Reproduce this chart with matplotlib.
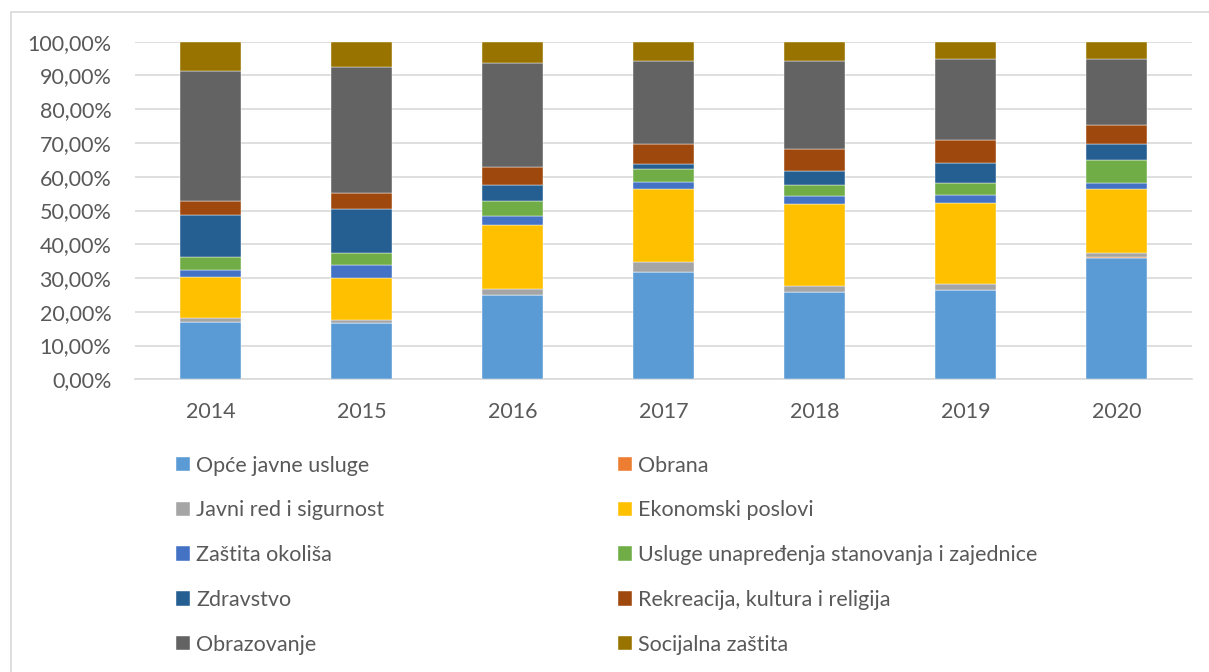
import matplotlib.pyplot as plt
import numpy as np
from matplotlib.patches import Rectangle
from matplotlib.ticker import FuncFormatter

# Udjeli rashoda po funkcijama (%), 2014-2020
years = ['2014', '2015', '2016', '2017', '2018', '2019', '2020']

opce_javne_usluge = [17.1, 16.6, 25.0, 31.9, 26.0, 26.5, 35.8]
obrana = [0.0, 0.0, 0.0, 0.0, 0.0, 0.0, 0.3]
javni_red = [1.1, 1.0, 1.7, 2.7, 1.7, 1.7, 1.4]
ekonomski_poslovi = [12.0, 12.3, 19.0, 21.8, 24.3, 24.1, 19.0]
zastita_okolisa = [2.1, 3.9, 2.6, 2.1, 2.2, 2.2, 1.6]
usluge_stanovanja = [3.8, 3.6, 4.5, 3.8, 3.5, 3.7, 6.9]
zdravstvo = [12.6, 13.1, 4.9, 1.4, 3.9, 5.8, 4.8]
rekreacija = [4.2, 4.6, 5.3, 6.1, 6.6, 7.0, 5.4]
obrazovanje = [38.3, 37.3, 30.6, 24.4, 26.0, 23.8, 19.8]
socijalna_zastita = [8.8, 7.6, 6.4, 5.8, 5.8, 5.2, 5.0]

series = [
    ('Opće javne usluge', opce_javne_usluge, '#5B9BD5'),
    ('Obrana', obrana, '#ED7D31'),
    ('Javni red i sigurnost', javni_red, '#A5A5A5'),
    ('Ekonomski poslovi', ekonomski_poslovi, '#FFC000'),
    ('Zaštita okoliša', zastita_okolisa, '#4472C4'),
    ('Usluge unapređenja stanovanja i zajednice', usluge_stanovanja, '#70AD47'),
    ('Zdravstvo', zdravstvo, '#255E91'),
    ('Rekreacija, kultura i religija', rekreacija, '#9E480E'),
    ('Obrazovanje', obrazovanje, '#636363'),
    ('Socijalna zaštita', socijalna_zastita, '#997300'),
]

plt.rcParams['font.family'] = ['Lato', 'DejaVu Sans']
text_color = '#595959'
fs = 15.5

fig = plt.figure(figsize=(12.09, 6.72), dpi=100)
ax = fig.add_axes([135 / 1209, 1 - 379.3 / 672, 1057 / 1209, 337.6 / 672])

x = np.arange(len(years))
bottom = np.zeros(len(years))
handles = []
for name, vals, color in series:
    vals = np.array(vals)
    b = ax.bar(x, vals, width=0.4, bottom=bottom, color=color, label=name,
               edgecolor='white', linewidth=0.3, zorder=3)
    handles.append(b)
    bottom += vals

ax.set_xlim(-0.5, len(years) - 0.5)
ax.set_ylim(0, 100)
ax.set_yticks(np.arange(0, 101, 10))
ax.yaxis.set_major_formatter(FuncFormatter(lambda v, p: f'{v:.2f}%'.replace('.', ',')))
ax.set_xticks(x)
ax.set_xticklabels(years)
ax.grid(axis='y', color='#d9d9d9', linewidth=1.2, zorder=0)
for s in ['top', 'right', 'left']:
    ax.spines[s].set_visible(False)
ax.spines['bottom'].set_color('#d9d9d9')
ax.spines['bottom'].set_linewidth(1.2)
ax.tick_params(axis='both', length=0, labelsize=fs, labelcolor=text_color)
ax.tick_params(axis='y', pad=17)
ax.tick_params(axis='x', pad=16)

# legenda u dva stupca, redoslijed po redovima
order = [0, 2, 4, 6, 8, 1, 3, 5, 7, 9]
leg = fig.legend([handles[i] for i in order], [series[i][0] for i in order],
                 ncol=2, loc='upper left', bbox_to_anchor=(167 / 1209, 1 - 447 / 672),
                 frameon=False, fontsize=fs, labelcolor=text_color,
                 handlelength=0.65, handleheight=0.65, handletextpad=0.3,
                 columnspacing=10.85, labelspacing=1.15, borderaxespad=0)

# okvir grafikona
fig.patches.append(Rectangle((11 / 1209, -0.1), 1.2, 1.1 - 12 / 672,
                             transform=fig.transFigure, fill=False,
                             edgecolor='#d9d9d9', linewidth=1.2))

fig.savefig('out.png', dpi=100)
